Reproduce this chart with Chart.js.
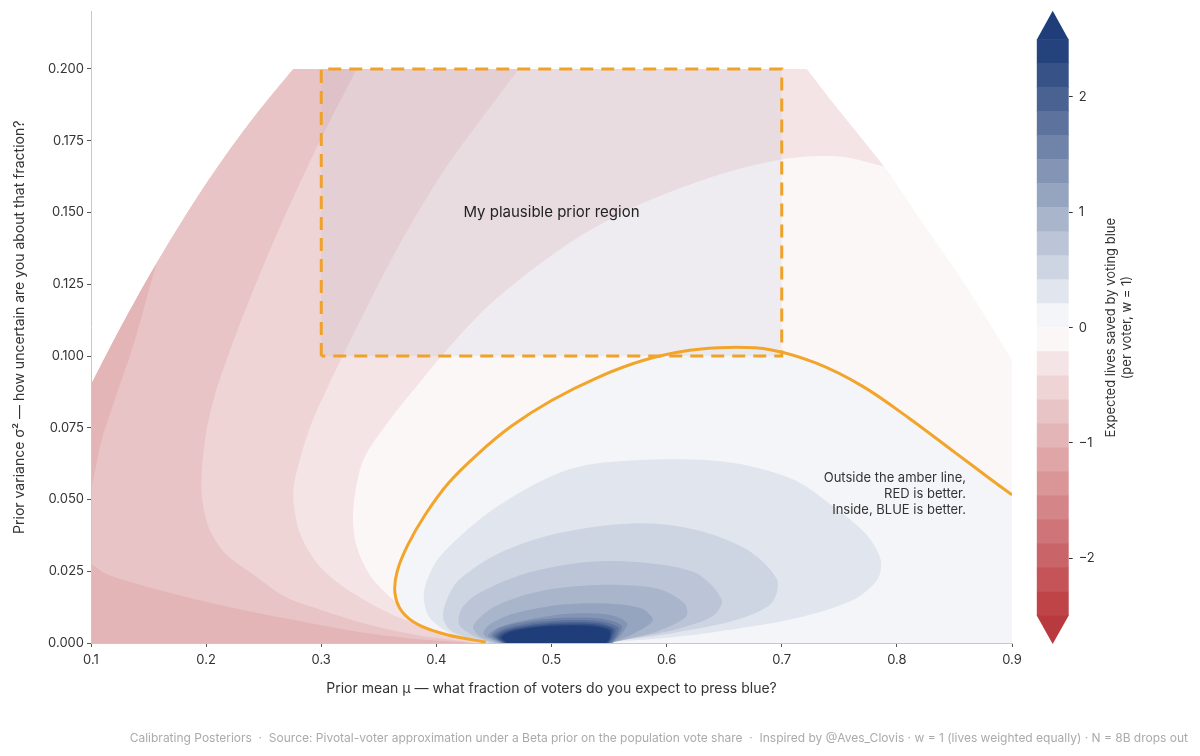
<!DOCTYPE html>
<html>
<head>
<meta charset="utf-8">
<script src="https://cdn.jsdelivr.net/npm/chart.js@4.4.1/dist/chart.umd.min.js"></script>
<style>
  html, body { margin: 0; padding: 0; background: #fff; }
  #wrap { position: relative; width: 1200px; height: 756px; overflow: hidden; }
  #main { position: absolute; left: 0; top: 0; }
  #cbar { position: absolute; left: 1000px; top: 0; }
  #foot { position: absolute; right: 12px; top: 730px; font: 12px Inter, "DejaVu Sans", sans-serif; color: #aaa; white-space: pre; }
</style>
</head>
<body>
<div id="wrap">
  <canvas id="main" width="1200" height="756"></canvas>
  <canvas id="cbar" width="200" height="756"></canvas>
  <div id="foot">Calibrating Posteriors  ·  Source: Pivotal-voter approximation under a Beta prior on the population vote share  ·  Inspired by @Aves_Clovis · w = 1 (lives weighted equally) · N = 8B drops out</div>
</div>
<script>
Chart.defaults.font.family = 'Inter, "DejaVu Sans", sans-serif';
Chart.defaults.color = '#333';

// axis ticks
const muTicks = [0.1, 0.2, 0.3, 0.4, 0.5, 0.6, 0.7, 0.8, 0.9];
const varTicks = [0, 0.025, 0.05, 0.075, 0.1, 0.125, 0.15, 0.175, 0.2];
const cbTicks = [-2, -1, 0, 1, 2];

// contour levels (lives saved by voting blue)
const levels = [-2.5, -2.292, -2.083, -1.875, -1.667, -1.458, -1.25, -1.042, -0.833, -0.625, -0.417, -0.208,
  0, 0.208, 0.417, 0.625, 0.833, 1.042, 1.25, 1.458, 1.667, 1.875, 2.083, 2.292, 2.5];

// colours of the 24 bands, bottom to top, plus the two extensions
const bandColors = ['#bf4448', '#c45458', '#c96468', '#cf7478', '#d48587', '#da9597', '#dfa5a7', '#e4b5b7',
  '#e9c4c6', '#efd4d6', '#f5e4e5', '#fbf7f7',
  '#f4f5f8', '#e1e5ed', '#ced5e2', '#bbc5d7', '#a8b5cb', '#95a4bf', '#8394b4', '#7083a9',
  '#5d739e', '#4a6292', '#375287', '#24427c'];
const extLow = '#b83a3e';
const extHigh = '#1f3d78';

// edges of the region where a Beta prior exists (mu, sigma^2)
const leftEdge = [[0.1, 0.09], [0.12, 0.1056], [0.14, 0.1204], [0.16, 0.1344], [0.18, 0.1476], [0.2, 0.16],
  [0.22, 0.1716], [0.24, 0.1824], [0.26, 0.1924], [0.2757, 0.2]];
const rightEdge = [[0.7217, 0.2], [0.745, 0.188], [0.789, 0.166], [0.823, 0.146], [0.849, 0.131], [0.875, 0.115], [0.9, 0.0986]];

// negative contours
const neg208 = [[0.443, 0.0003], [0.425, 0.002], [0.409, 0.0045], [0.3742, 0.0115], [0.3452, 0.022], [0.3308, 0.0336],
  [0.3278, 0.0463], [0.3365, 0.0638], [0.36, 0.078], [0.385, 0.0905], [0.41, 0.1025], [0.44, 0.1155],
  [0.475, 0.1275], [0.52, 0.1405], [0.575, 0.1525], [0.64, 0.1625], [0.7, 0.1685], [0.75, 0.1695], [0.789, 0.166]];
const neg417 = [[0.435, 0.0003], [0.409, 0.0034], [0.3655, 0.0092], [0.3278, 0.0173], [0.2989, 0.0266], [0.2815, 0.0382],
  [0.2757, 0.0521], [0.2815, 0.064], [0.292, 0.077], [0.306, 0.0895], [0.3278, 0.1075], [0.3655, 0.137],
  [0.409, 0.166], [0.4717, 0.2]];
const neg625 = [[0.43, 0.0003], [0.38, 0.003], [0.34, 0.0065], [0.3, 0.0115], [0.2685, 0.0161], [0.2396, 0.0243],
  [0.2164, 0.0313], [0.202, 0.0405], [0.196, 0.0533], [0.199, 0.0707], [0.207, 0.0855], [0.219, 0.1],
  [0.235, 0.117], [0.2642, 0.145], [0.2989, 0.175], [0.3308, 0.2]];
const neg833Strip = [[0.1, 0.054], [0.102, 0.0568], [0.1093, 0.0707], [0.1237, 0.0882], [0.1382, 0.1056], [0.157, 0.1323], [0.16, 0.1344]];
const neg833Wedge = [[0.1, 0.0278], [0.112, 0.0243], [0.138, 0.0208], [0.1817, 0.0161], [0.225, 0.0121], [0.2685, 0.0086],
  [0.33, 0.004], [0.38, 0.0015], [0.425, 0.0002]];

// amber line (break-even)
const amber = [[0.443, 0.0003], [0.41, 0.0028], [0.385, 0.0062], [0.37, 0.011], [0.364, 0.0175], [0.366, 0.025],
  [0.375, 0.034], [0.39, 0.0445], [0.41, 0.0555], [0.435, 0.0655], [0.465, 0.0755], [0.5, 0.0845],
  [0.54, 0.0925], [0.58, 0.0985], [0.62, 0.102], [0.655, 0.103], [0.69, 0.1022], [0.73, 0.0975],
  [0.77, 0.0895], [0.81, 0.0785], [0.85, 0.0665], [0.88, 0.0575], [0.9, 0.0516]];

// positive contours, outermost first
const pos = [
  [[0.443, 0], [0.425, 0.0015], [0.405, 0.005], [0.393, 0.0095], [0.389, 0.016], [0.392, 0.022], [0.4027, 0.03],
   [0.437, 0.0429], [0.471, 0.0521], [0.5055, 0.0591], [0.54, 0.0626], [0.608, 0.064], [0.66, 0.0626],
   [0.711, 0.0568], [0.745, 0.0475], [0.7726, 0.0382], [0.786, 0.0289], [0.783, 0.022], [0.762, 0.015],
   [0.711, 0.0085], [0.642, 0.0038], [0.6, 0.0018], [0.56, 0.0006], [0.53, 0]],
  [[0.446, 0], [0.43, 0.0015], [0.412, 0.0045], [0.4058, 0.009], [0.409, 0.015], [0.4196, 0.022], [0.454, 0.0312],
   [0.5055, 0.0382], [0.574, 0.0417], [0.6258, 0.0394], [0.6705, 0.0324], [0.696, 0.022], [0.691, 0.0138],
   [0.66, 0.008], [0.6086, 0.0037], [0.57, 0.0015], [0.54, 0]],
  [[0.449, 0], [0.43, 0.003], [0.4196, 0.0065], [0.422, 0.012], [0.4368, 0.0173], [0.478, 0.0243], [0.533, 0.0283],
   [0.581, 0.028], [0.6258, 0.0243], [0.648, 0.015], [0.6395, 0.0092], [0.6086, 0.0048], [0.575, 0.002], [0.545, 0]],
  [[0.452, 0], [0.437, 0.0025], [0.432, 0.006], [0.4505, 0.0127], [0.488, 0.0179], [0.54, 0.0202], [0.5914, 0.019],
   [0.6155, 0.0138], [0.617, 0.0092], [0.5914, 0.004], [0.565, 0.0013], [0.55, 0]],
  [[0.455, 0], [0.441, 0.003], [0.445, 0.006], [0.464, 0.0098], [0.5055, 0.0132], [0.5467, 0.0138], [0.5777, 0.0121],
   [0.588, 0.008], [0.574, 0.0038], [0.56, 0.0012], [0.552, 0]],
  [[0.456, 0], [0.445, 0.0025], [0.452, 0.005], [0.471, 0.0074], [0.512, 0.0101], [0.55, 0.0098], [0.5656, 0.0069],
   [0.5605, 0.0028], [0.553, 0]],
  [[0.457, 0], [0.448, 0.0025], [0.455, 0.0052], [0.477, 0.0074], [0.51, 0.0088], [0.545, 0.0084], [0.561, 0.006],
   [0.558, 0.0025], [0.552, 0]],
  [[0.458, 0], [0.45, 0.0024], [0.458, 0.0048], [0.48, 0.0068], [0.51, 0.0079], [0.542, 0.0076], [0.558, 0.0055],
   [0.556, 0.0023], [0.551, 0]],
  [[0.459, 0], [0.452, 0.0022], [0.46, 0.0045], [0.482, 0.0063], [0.51, 0.0072], [0.54, 0.007], [0.555, 0.0051],
   [0.554, 0.0021], [0.55, 0]],
  [[0.46, 0], [0.454, 0.0021], [0.462, 0.0042], [0.484, 0.0059], [0.51, 0.0067], [0.538, 0.0065], [0.553, 0.0048],
   [0.552, 0.002], [0.549, 0]],
  [[0.461, 0], [0.456, 0.002], [0.464, 0.004], [0.486, 0.0056], [0.51, 0.0062], [0.536, 0.006], [0.551, 0.0045],
   [0.551, 0.0019], [0.548, 0]],
  [[0.462, 0], [0.458, 0.0019], [0.466, 0.0038], [0.488, 0.0053], [0.51, 0.0058], [0.534, 0.0056], [0.549, 0.0042],
   [0.55, 0.0018], [0.547, 0]]
];

// plausible prior box and notes
const boxMu = [0.3, 0.7];
const boxVar = [0.1, 0.2];
const boxLabel = 'My plausible prior region';
const boxLabelAt = [0.5, 0.15];
const note = ['Outside the amber line,', 'RED is better.', 'Inside, BLUE is better.'];
const noteAt = [0.86, 0.0575];

// ---- build polygons ----
const toPts = arr => arr.map(([x, y]) => ({ x, y }));
// join pieces; repeat each piece's ends so the curve keeps sharp corners there
function shape(...parts) {
  const out = [];
  parts.forEach(p => out.push(p[0], ...p, p[p.length - 1]));
  return toPts(out);
}
const rev = a => [...a].reverse();
const topLeft = leftEdge[leftEdge.length - 1];
const topRight = rightEdge[0];
const rightLow = rightEdge[rightEdge.length - 1];

const layers = [
  { data: shape([[0.9, 0], [0.1, 0]], leftEdge, [topLeft, topRight], rightEdge, [rightLow, [0.9, 0]]), color: bandColors[11] },
  { data: shape(neg208, rev(rightEdge.slice(0, 3)), [topRight, topLeft], rev(leftEdge), [[0.1, 0.09], [0.1, 0], [0.443, 0]]), color: bandColors[10] },
  { data: shape(neg417, [neg417[neg417.length - 1], topLeft], rev(leftEdge), [[0.1, 0.09], [0.1, 0], [0.435, 0]]), color: bandColors[9] },
  { data: shape(neg625, [neg625[neg625.length - 1], topLeft], rev(leftEdge), [[0.1, 0.09], [0.1, 0], [0.43, 0]]), color: bandColors[8] },
  { data: shape(neg833Strip, rev(leftEdge.slice(0, 4)), [[0.1, 0.09], [0.1, 0.054]]), color: bandColors[7] },
  { data: shape(neg833Wedge, [[0.425, 0], [0.1, 0], [0.1, 0.0278]]), color: bandColors[7] },
  { data: shape(amber, [[0.9, 0.0516], [0.9, 0], [0.443, 0]]), color: bandColors[12] }
];
pos.forEach((c, i) => layers.push({ data: shape(c), color: i < 11 ? bandColors[13 + i] : extHigh }));

const datasets = layers.map(l => ({
  data: l.data,
  showLine: true,
  fill: 'shape',
  backgroundColor: l.color,
  borderColor: 'transparent',
  borderWidth: 0,
  tension: 0.3,
  pointRadius: 0,
  pointHitRadius: 0
}));

datasets.push({
  data: toPts([[boxMu[0], boxVar[0]], [boxMu[0], boxVar[1]], [boxMu[1], boxVar[1]], [boxMu[1], boxVar[0]], [boxMu[0], boxVar[0]]]),
  showLine: true,
  fill: 'shape',
  backgroundColor: 'rgba(175,185,210,0.17)',
  borderColor: '#f0a128',
  borderWidth: 3,
  borderDash: [13, 8],
  tension: 0,
  pointRadius: 0
});

datasets.push({
  data: toPts(amber),
  showLine: true,
  fill: false,
  borderColor: '#f2a52a',
  borderWidth: 3,
  tension: 0.35,
  pointRadius: 0
});

// first layer has the highest order so it is drawn first
datasets.forEach((d, i) => { d.order = datasets.length - i; });

const notes = {
  id: 'notes',
  afterDatasetsDraw(chart) {
    const { ctx, scales: { x, y } } = chart;
    ctx.save();
    ctx.fillStyle = '#222';
    ctx.font = '15px Inter, "DejaVu Sans", sans-serif';
    ctx.textAlign = 'center';
    ctx.textBaseline = 'middle';
    ctx.fillText(boxLabel, x.getPixelForValue(boxLabelAt[0]), y.getPixelForValue(boxLabelAt[1]));
    ctx.font = '13px Inter, "DejaVu Sans", sans-serif';
    ctx.fillStyle = '#333';
    ctx.textAlign = 'right';
    const nx = x.getPixelForValue(noteAt[0]);
    const ny = y.getPixelForValue(noteAt[1]);
    note.forEach((t, i) => ctx.fillText(t, nx, ny + i * 16));
    ctx.restore();
  }
};

new Chart(document.getElementById('main'), {
  type: 'scatter',
  data: { datasets },
  options: {
    responsive: false,
    animation: false,
    layout: { padding: { left: 0, right: 188, top: 11.6, bottom: 40 } },
    plugins: { legend: { display: false }, tooltip: { enabled: false } },
    scales: {
      x: {
        type: 'linear',
        min: 0.1,
        max: 0.9,
        afterBuildTicks: s => { s.ticks = muTicks.map(v => ({ value: v })); },
        afterFit: s => { s.height = 73; },
        ticks: { callback: v => v.toFixed(1), font: { size: 13 }, padding: 5, color: '#333' },
        grid: { drawOnChartArea: false, drawTicks: true, tickLength: 4, color: '#555' },
        border: { color: '#c8c8c8', z: 1 },
        title: {
          display: true,
          text: 'Prior mean μ — what fraction of voters do you expect to press blue?',
          font: { size: 14 },
          color: '#333',
          padding: { top: 0, bottom: 18.6 }
        }
      },
      y: {
        type: 'linear',
        min: 0,
        max: 0.22,
        afterBuildTicks: s => { s.ticks = varTicks.map(v => ({ value: v })); },
        afterFit: s => { s.width = 91; },
        ticks: { callback: v => v.toFixed(3), font: { size: 13 }, padding: 3, color: '#333' },
        grid: { drawOnChartArea: false, drawTicks: true, tickLength: 4, color: '#555' },
        border: { color: '#c8c8c8', z: 1 },
        title: {
          display: true,
          text: 'Prior variance σ² — how uncertain are you about that fraction?',
          font: { size: 14 },
          color: '#333',
          padding: { top: 11.6, bottom: 0 }
        }
      }
    }
  },
  plugins: [notes]
});

// ---- colour bar ----
const cbarExtras = {
  id: 'cbarExtras',
  afterDatasetsDraw(chart) {
    const { ctx, chartArea: a, scales: { y } } = chart;
    const mid = (a.left + a.right) / 2;
    const top = y.getPixelForValue(levels[levels.length - 1]);
    const bot = y.getPixelForValue(levels[0]);
    ctx.save();
    ctx.fillStyle = extHigh;
    ctx.beginPath();
    ctx.moveTo(a.left, top + 0.5);
    ctx.lineTo(a.right, top + 0.5);
    ctx.lineTo(mid, top - 28.6);
    ctx.closePath();
    ctx.fill();
    ctx.fillStyle = extLow;
    ctx.beginPath();
    ctx.moveTo(a.left, bot - 0.5);
    ctx.lineTo(a.right, bot - 0.5);
    ctx.lineTo(mid, bot + 28);
    ctx.closePath();
    ctx.fill();
    // label, reading bottom to top
    ctx.translate(a.right + 42.5, (top + bot) / 2);
    ctx.rotate(-Math.PI / 2);
    ctx.fillStyle = '#333';
    ctx.font = '13px Inter, "DejaVu Sans", sans-serif';
    ctx.textAlign = 'center';
    ctx.textBaseline = 'middle';
    ctx.fillText('Expected lives saved by voting blue', 0, 0);
    ctx.fillText('(per voter, w = 1)', 0, 15.6);
    ctx.restore();
  }
};

new Chart(document.getElementById('cbar'), {
  type: 'bar',
  data: {
    labels: [''],
    datasets: bandColors.map((c, i) => ({
      data: [[levels[i], levels[i + 1]]],
      backgroundColor: c,
      borderWidth: 0,
      grouped: false,
      barPercentage: 1,
      categoryPercentage: 1
    }))
  },
  options: {
    responsive: false,
    animation: false,
    layout: { padding: { left: 36.7, right: 0, top: 39.3, bottom: 140 } },
    plugins: { legend: { display: false }, tooltip: { enabled: false } },
    scales: {
      x: { display: false },
      y: {
        position: 'right',
        min: -2.5,
        max: 2.5,
        afterBuildTicks: s => { s.ticks = cbTicks.map(v => ({ value: v })); },
        afterFit: s => { s.width = 131.3; },
        ticks: { callback: v => (v < 0 ? '−' + Math.abs(v) : String(v)), font: { size: 13 }, padding: 6, color: '#333' },
        grid: { drawOnChartArea: false, drawTicks: true, tickLength: 4, color: '#333' },
        border: { display: false }
      }
    }
  },
  plugins: [cbarExtras]
});
</script>
</body>
</html>
